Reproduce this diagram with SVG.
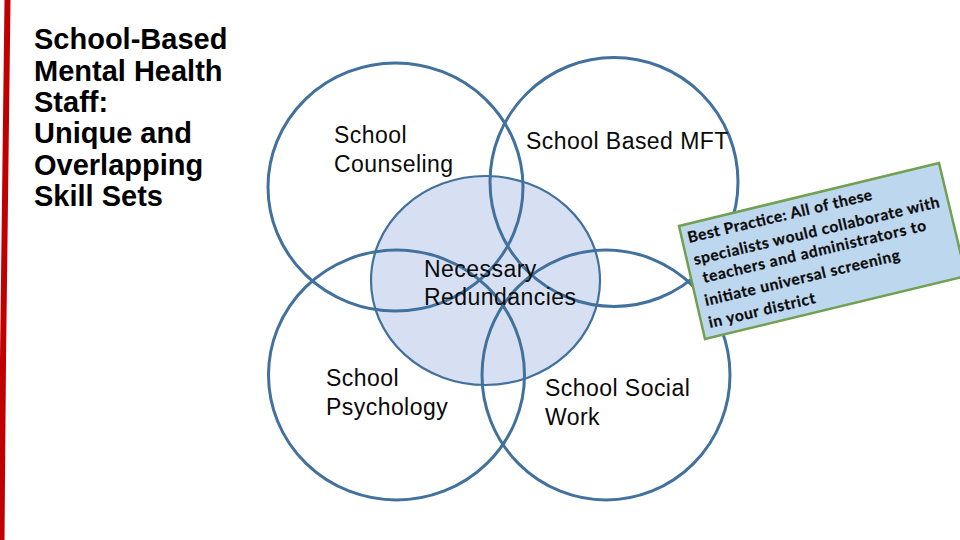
<svg xmlns="http://www.w3.org/2000/svg" width="960" height="540" viewBox="0 0 960 540">
<style>
.c{fill:none;stroke:#41719c;stroke-width:3}
.t{font-family:"Liberation Sans",Arial,sans-serif;font-size:23px;letter-spacing:.45px;fill:#0a0a0a}
.h{font-family:"Liberation Sans",Arial,sans-serif;font-size:29px;font-weight:700;fill:#000}
.b{font-family:Lato,"Open Sans",sans-serif;font-size:15.500px;font-weight:700;fill:#0a0a0a;stroke:#0a0a0a;stroke-width:.25px}
</style>
<rect width="960" height="540" fill="#fff"/>
<path id="edge" d="M7.500 0L6 120L4.500 240L3 360L1.500 540" fill="none" stroke="#c00000" stroke-width="6"/>
<g id="title"><text class="h" x="34" y="49">School-Based</text><text class="h" x="34" y="80.500">Mental Health</text><text class="h" x="34" y="112">Staff:</text><text class="h" x="34" y="143">Unique and</text><text class="h" x="34" y="175">Overlapping</text><text class="h" x="34" y="206">Skill Sets</text></g>
<g id="necessary"><ellipse cx="485.500" cy="280.500" rx="114.500" ry="104.500" fill="#d6e0f2" stroke="#41719c" stroke-width="2.200"/></g>
<g id="counseling"><ellipse class="c" cx="395.500" cy="187" rx="127.500" ry="124"/><text class="t" x="334" y="142.500">School</text><text class="t" x="334" y="171.500">Counseling</text></g>
<g id="mft"><ellipse class="c" cx="614" cy="182" rx="124" ry="124.500"/><text class="t" x="526" y="148.500">School Based MFT</text></g>
<g id="psychology"><ellipse class="c" cx="396.500" cy="375" rx="128" ry="125"/><text class="t" x="326" y="385.500">School</text><text class="t" x="326" y="414.500">Psychology</text></g>
<g id="social"><ellipse class="c" cx="606" cy="375" rx="124" ry="125"/><text class="t" x="545" y="395.500">School Social</text><text class="t" x="545" y="424.500">Work</text></g>
<g id="necessary-label"><text class="t" x="424" y="277">Necessary</text><text class="t" x="424" y="305">Redundancies</text></g>
<g id="best-practice">
<polygon points="679,226 939,163 966,276 705,339" fill="#bdd7ee" stroke="#70a050" stroke-width="2.500"/>
<text transform="translate(689,243) rotate(-13.300)" class="b" textLength="189" lengthAdjust="spacing">Best Practice: All of these</text>
<text transform="translate(695,265) rotate(-13.300)" class="b" textLength="252" lengthAdjust="spacing">specialists would collaborate with</text>
<text transform="translate(704,283) rotate(-13.300)" class="b" textLength="229" lengthAdjust="spacing">teachers and administrators to</text>
<text transform="translate(706,306) rotate(-13.300)" class="b" textLength="200" lengthAdjust="spacing">initiate universal screening</text>
<text transform="translate(710,328) rotate(-13.300)" class="b" textLength="109" lengthAdjust="spacing">in your district</text>
</g>
</svg>
